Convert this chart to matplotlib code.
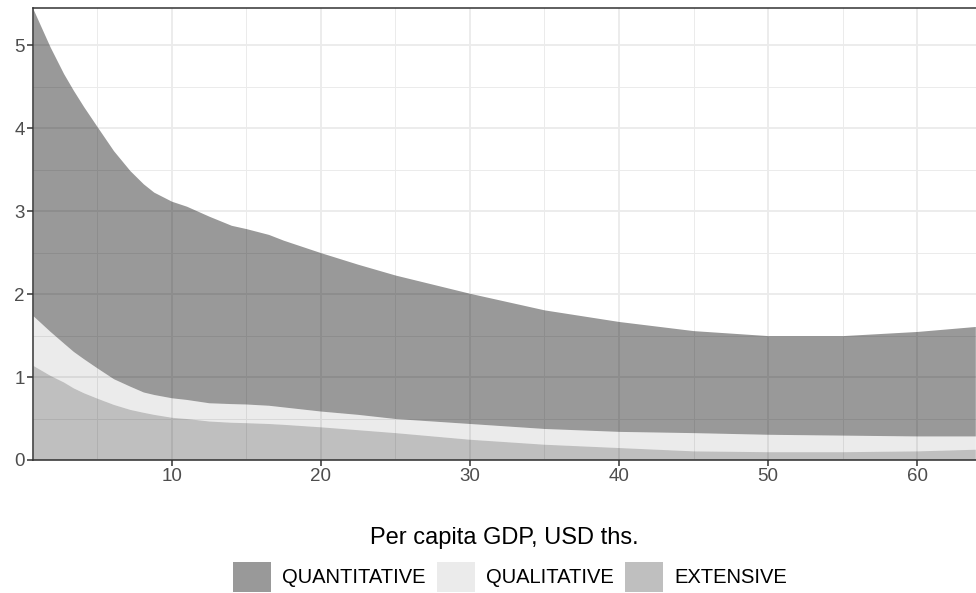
import numpy as np
import matplotlib
matplotlib.use("Agg")
import matplotlib.pyplot as plt
from matplotlib.patches import Patch

plt.rcParams['font.family'] = ['Liberation Sans', 'DejaVu Sans']

# per capita GDP, USD ths.
gdp = [0.7, 1.85, 2.75, 3.4, 4.1, 5.0, 6.1, 7.2, 8.1, 8.8, 10, 11, 12.5, 14, 15,
       16.5, 17.5, 20, 22.5, 25, 27.5, 30, 35, 40, 45, 50, 55, 60, 63.9]

# components (stacked from the bottom)
extensive = [1.14, 1.02, 0.94, 0.87, 0.81, 0.745, 0.67, 0.61, 0.575, 0.55, 0.515,
             0.50, 0.47, 0.455, 0.45, 0.44, 0.43, 0.40, 0.365, 0.33, 0.29, 0.25,
             0.19, 0.15, 0.11, 0.10, 0.10, 0.11, 0.13]
qualitative = [0.60, 0.53, 0.47, 0.44, 0.41, 0.365, 0.31, 0.28, 0.245, 0.24, 0.235,
               0.23, 0.22, 0.225, 0.225, 0.22, 0.21, 0.19, 0.185, 0.17, 0.18, 0.19,
               0.19, 0.195, 0.22, 0.21, 0.20, 0.18, 0.16]
quantitative = [3.70, 3.43, 3.25, 3.15, 3.04, 2.91, 2.75, 2.60, 2.51, 2.44, 2.37,
                2.33, 2.25, 2.15, 2.115, 2.06, 2.01, 1.91, 1.81, 1.73, 1.65, 1.57,
                1.43, 1.325, 1.23, 1.19, 1.20, 1.26, 1.32]

labels = ['QUANTITATIVE', 'QUALITATIVE', 'EXTENSIVE']
alphas = {'QUANTITATIVE': 0.40, 'QUALITATIVE': 0.08, 'EXTENSIVE': 0.25}

fig = plt.figure(figsize=(9.76, 5.93), dpi=100)
ax = fig.add_axes([33 / 976, 1 - 460 / 593, 1 - 33 / 976 + 0.01, (460 - 8) / 593])

# grid (theme_bw look)
ax.set_xticks(np.arange(10, 70, 10))
ax.set_xticks(np.arange(5, 70, 10), minor=True)
ax.set_yticks(np.arange(0, 6, 1))
ax.set_yticks(np.arange(0.5, 6, 1), minor=True)
ax.grid(which='major', color='#EBEBEB', lw=1.3)
ax.grid(which='minor', color='#EBEBEB', lw=0.7)
ax.set_axisbelow(True)

x = np.array(gdp)
lower = np.zeros(len(x))
for name, vals in [('EXTENSIVE', extensive), ('QUALITATIVE', qualitative),
                   ('QUANTITATIVE', quantitative)]:
    upper = lower + np.array(vals)
    ax.fill_between(x, lower, upper, color='black', alpha=alphas[name], lw=0)
    lower = upper

ax.set_xlim(0.7, 64.6)
ax.set_ylim(0, 5.45)

for s in ['left', 'bottom', 'top']:
    ax.spines[s].set_color('#333333')
    ax.spines[s].set_linewidth(1.1)
ax.spines['right'].set_visible(False)
ax.tick_params(which='major', length=4, width=1.1, color='#333333',
               labelcolor='#4D4D4D', labelsize=13.5, pad=2)
ax.tick_params(which='minor', length=0)

ax.set_xlabel('Per capita GDP, USD ths.', fontsize=17, color='black')
ax.xaxis.set_label_coords(0.5 - 0.5 * 0.01 / (1 - 33 / 976 + 0.01), -0.1726)
ax.xaxis.label.set_va('center')

handles = [Patch(facecolor='black', alpha=alphas[n], lw=0) for n in labels]
fig.legend(handles, labels, loc='center', bbox_to_anchor=(0.5225, 0.027), ncol=3,
           frameon=False, fontsize=14.5, handlelength=1.89, handleheight=1.89,
           handletextpad=0.55, columnspacing=0.55, borderpad=0)

fig.savefig('out.png', dpi=100)
